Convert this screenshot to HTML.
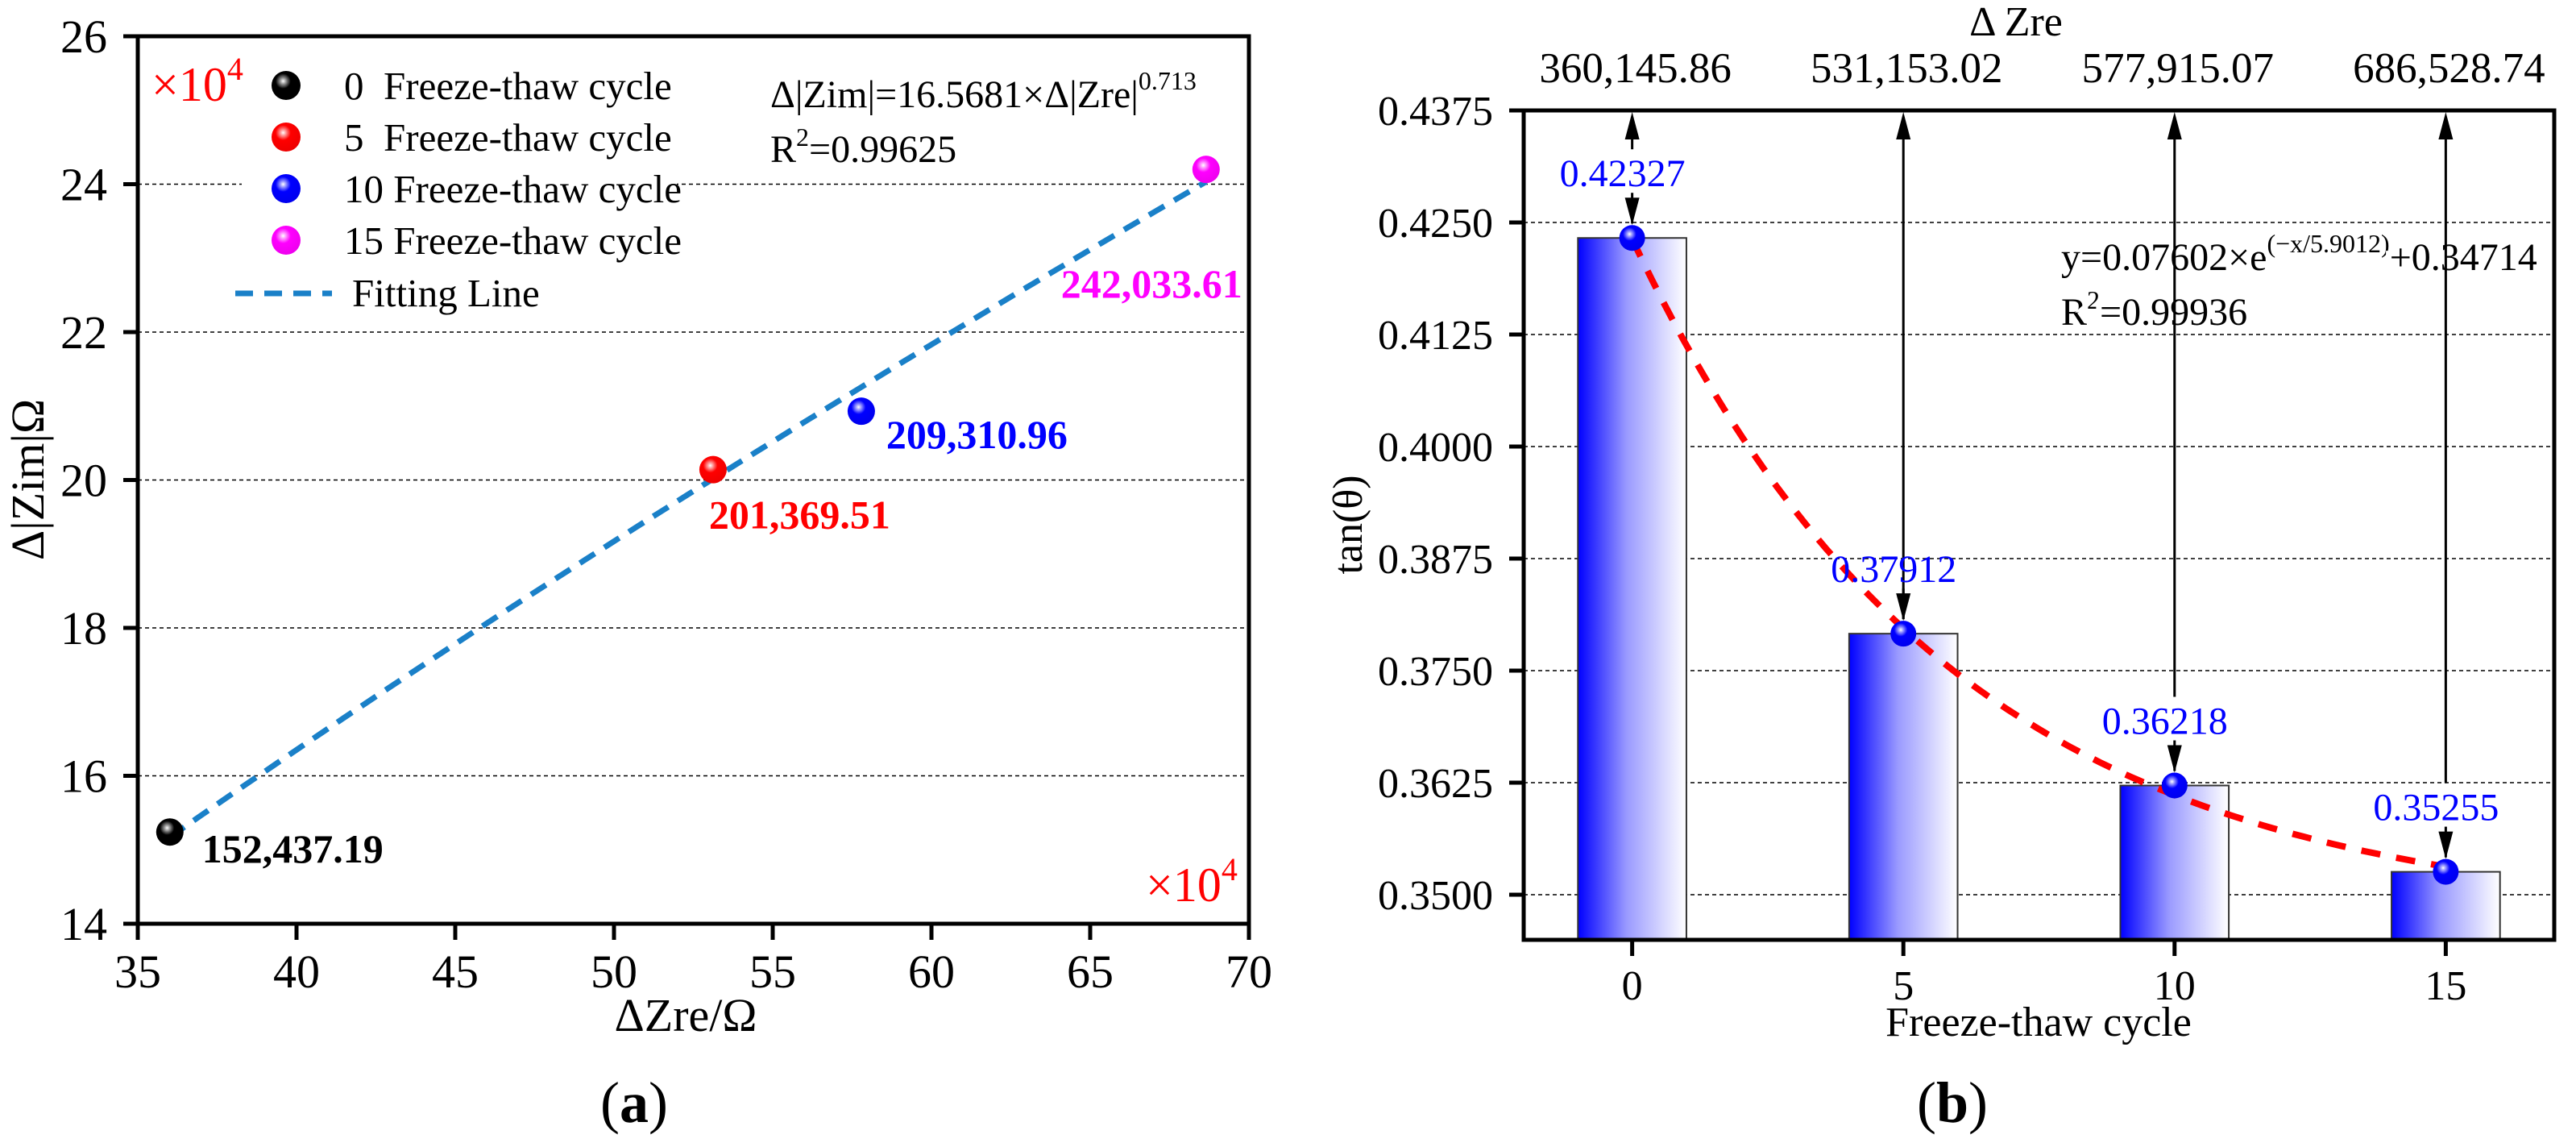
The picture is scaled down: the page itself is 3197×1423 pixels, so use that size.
<!DOCTYPE html>
<html><head><meta charset="utf-8">
<style>
html,body{margin:0;padding:0;background:#fff;}
svg{display:block;}
text{font-family:"Liberation Serif","DejaVu Serif",serif;white-space:pre;}
</style></head>
<body>
<svg id="fig" width="3197" height="1423" viewBox="0 0 3197 1423" xmlns="http://www.w3.org/2000/svg">
<defs>
<radialGradient id="gBlack" cx="0.4" cy="0.35" r="0.65"><stop offset="0" stop-color="#fff"/><stop offset="0.15" stop-color="#999"/><stop offset="0.4" stop-color="#000"/><stop offset="1" stop-color="#000"/></radialGradient>
<radialGradient id="gRed" cx="0.4" cy="0.35" r="0.65"><stop offset="0" stop-color="#fff"/><stop offset="0.15" stop-color="#f99"/><stop offset="0.4" stop-color="#f00"/><stop offset="1" stop-color="#e00"/></radialGradient>
<radialGradient id="gBlue" cx="0.4" cy="0.35" r="0.65"><stop offset="0" stop-color="#fff"/><stop offset="0.15" stop-color="#99f"/><stop offset="0.4" stop-color="#00f"/><stop offset="1" stop-color="#00e"/></radialGradient>
<radialGradient id="gMag" cx="0.4" cy="0.35" r="0.65"><stop offset="0" stop-color="#fff"/><stop offset="0.15" stop-color="#f9f"/><stop offset="0.4" stop-color="#f0f"/><stop offset="1" stop-color="#e0e"/></radialGradient>
<linearGradient id="gBar" x1="0" x2="1" y1="0" y2="0"><stop offset="0" stop-color="#0000ff"/><stop offset="0.45" stop-color="#9a9aff"/><stop offset="1" stop-color="#ffffff"/></linearGradient>
</defs>
<g id="left"></g>
<g id="right"></g>
</svg>
<script>
// ---- Chart (a) data ----
const aXTicks = [35,40,45,50,55,60,65,70];
const aYTicks = [14,16,18,20,22,24,26];
const aPointX = [36.01, 53.12, 57.79, 68.65];
const aPointY = [15.24, 20.14, 20.93, 24.20];
const aLabels = ["152,437.19","201,369.51","209,310.96","242,033.61"];
const aColors = ["#000","#f00","#00f","#f0f"];
const aLegend = ["0  Freeze-thaw cycle","5  Freeze-thaw cycle","10 Freeze-thaw cycle","15 Freeze-thaw cycle"];
const aFitCoef = 16.5681, aFitExp = 0.713;
// ---- Chart (b) data ----
const bCats = [0,5,10,15];
const bValues = [0.42327,0.37912,0.36218,0.35255];
const bTopLabels = ["360,145.86","531,153.02","577,915.07","686,528.74"];
const bYTicks = [0.3500,0.3625,0.3750,0.3875,0.4000,0.4125,0.4250,0.4375];
const bFitA = 0.07602, bFitT = 5.9012, bFitC = 0.34714;

const NS="http://www.w3.org/2000/svg";
function mk(parent,tag,attrs,text){const e=document.createElementNS(NS,tag);for(const k in attrs)e.setAttribute(k,attrs[k]);if(text!==undefined)e.textContent=text;parent.appendChild(e);return e;}
const L=document.getElementById('left'), R=document.getElementById('right');

// ===== Chart (a) =====
const ax0=171, ax1=1550, ay0=1146, ay1=45;
const aX=v=>ax0+(v-35)/(70-35)*(ax1-ax0);
const aY=v=>ay0-(v-14)/(26-14)*(ay0-ay1);
aYTicks.forEach(t=>{
  if(t>14&&t<26){const g=mk(L,'line',{x1:ax0,x2:ax1,y1:aY(t),y2:aY(t),stroke:'#000','stroke-width':1.5,'stroke-dasharray':'5,4'});
  
  }
  const tk=mk(L,'line',{x1:ax0-18,x2:ax0,y1:aY(t),y2:aY(t),stroke:'#000','stroke-width':5});
  
  
  const lb=mk(L,'text',{x:133,y:aY(t)+20,'text-anchor':'end','font-size':58},String(t));
  
  
});
aXTicks.forEach(t=>{
  const tk=mk(L,'line',{x1:aX(t),x2:aX(t),y1:ay0,y2:ay0+20,stroke:'#000','stroke-width':5});
  
  
  const lb=mk(L,'text',{x:aX(t),y:1225,'text-anchor':'middle','font-size':58},String(t));
  
  
});
// legend background
const lbg=mk(L,'rect',{x:300,y:75,width:540,height:330,fill:'#fff'});


// fit line
let pts=[];
for(let i=0;i<=60;i++){const x=aPointX[0]+(aPointX[3]-aPointX[0])*i/60;const y=aFitCoef*Math.pow(x*1e4,aFitExp)/1e4;pts.push(aX(x).toFixed(1)+','+aY(y).toFixed(1));}
const fl=mk(L,'polyline',{points:pts.join(' '),fill:'none',stroke:'#1a80c8','stroke-width':7,'stroke-dasharray':'22,14'});


const grads=['url(#gBlack)','url(#gRed)','url(#gBlue)','url(#gMag)'];
const lOff=[[40,38],[-5,73],[31,46],[-180,159]];
aPointX.forEach((x,i)=>{
  const c=mk(L,'circle',{cx:aX(x),cy:aY(aPointY[i]),r:17,fill:grads[i]});
  
  
  const t=mk(L,'text',{x:aX(x)+lOff[i][0],y:aY(aPointY[i])+lOff[i][1],'font-size':50,'font-weight':'bold',fill:aColors[i]},aLabels[i]);
  
  
});
// legend
aLegend.forEach((s,i)=>{
  const y=106+i*64;
  const c=mk(L,'circle',{cx:355,cy:y,r:18,fill:grads[i]});
  
  
  const t=mk(L,'text',{x:427,y:y+17,'font-size':49},s);
  
  
});
const lfl=mk(L,'line',{x1:292,x2:412,y1:364,y2:364,stroke:'#1a80c8','stroke-width':7,'stroke-dasharray':'22,14'});


const lft=mk(L,'text',{x:437,y:380,'font-size':49},'Fitting Line');


// axes box
const ab=mk(L,'rect',{x:ax0,y:ay1,width:ax1-ax0,height:ay0-ay1,fill:'none',stroke:'#000','stroke-width':5});


L.insertAdjacentHTML('beforeend',
 '<text x="188" y="125" font-size="60" fill="#f00">×10<tspan dy="-26" font-size="40">4</tspan></text>'+
 '<text x="1422" y="1118" font-size="60" fill="#f00">×10<tspan dy="-26" font-size="40">4</tspan></text>'+
 '<text x="956" y="133" font-size="48">Δ|Zim|=16.5681×Δ|Zre|<tspan dy="-22" font-size="32">0.713</tspan></text>'+
 '<text x="956" y="201" font-size="48">R<tspan dy="-20" font-size="32">2</tspan><tspan dy="20">=0.99625</tspan></text>'+
 '<text x="851" y="1279" font-size="58" text-anchor="middle">ΔZre/Ω</text>'+
 '<text transform="translate(54,595) rotate(-90)" font-size="58" text-anchor="middle">Δ|Zim|Ω</text>'+
 '<text x="787" y="1392" font-size="72" text-anchor="middle">(<tspan font-weight="bold">a</tspan>)</text>');

// ===== Chart (b) =====
const bx0=1891, bx1=3170, by0=1166, by1=137;
const bX=v=>bx0+(v-(-2))/(17-(-2))*(bx1-bx0);
const bY=v=>by0-(v-0.34496)/(0.4375-0.34496)*(by0-by1);
bYTicks.forEach(t=>{
  if(t<0.4375){const g=mk(R,'line',{x1:bx0,x2:bx1,y1:bY(t),y2:bY(t),stroke:'#000','stroke-width':1.5,'stroke-dasharray':'5,4'});
  
  }
  const tk=mk(R,'line',{x1:bx0-18,x2:bx0,y1:bY(t),y2:bY(t),stroke:'#000','stroke-width':5});
  
  
  const lb=mk(R,'text',{x:1853,y:bY(t)+18,'text-anchor':'end','font-size':52},t.toFixed(4));
  
  
});
bCats.forEach((c,i)=>{
  const b=mk(R,'rect',{x:bX(c-1),y:bY(bValues[i]),width:bX(c+1)-bX(c-1),height:by0-bY(bValues[i]),fill:'url(#gBar)',stroke:'#333','stroke-width':2});
  
  
});
// fit curve
pts=[];
for(let i=0;i<=80;i++){const x=15*i/80;const y=bFitA*Math.exp(-x/bFitT)+bFitC;pts.push(bX(x).toFixed(1)+','+bY(y).toFixed(1));}
const bf=mk(R,'polyline',{points:pts.join(' '),fill:'none',stroke:'#f00','stroke-width':8,'stroke-dasharray':'24,20'});


// equation
R.insertAdjacentHTML('beforeend',
 '<text x="2558" y="335" font-size="48" style="paint-order:stroke" stroke="#fff" stroke-width="14">y=0.07602×e<tspan dy="-22" font-size="32">(−x/5.9012)</tspan><tspan dy="22">+0.34714</tspan></text>'+
 '<text x="2558" y="403" font-size="48" style="paint-order:stroke" stroke="#fff" stroke-width="14">R<tspan dy="-20" font-size="32">2</tspan><tspan dy="20">=0.99936</tspan></text>');
function arrowHead(x,y,dir){ // tip at (x,y), dir -1 up, +1 down
  return mk(R,'polygon',{points:`${x},${y} ${x-9},${y-dir*34} ${x+9},${y-dir*34}`,fill:'#000'});
}
bCats.forEach((c,i)=>{
  const x=bX(c), my=bY(bValues[i]), base=my-64;
  const gapTop = base-46;
  const ln=mk(R,'line',{x1:x,x2:x,y1:by1+10,y2:(i===1? my-18 : gapTop),stroke:'#000','stroke-width':3});
  
  
  const h1=arrowHead(x,by1+2,-1);
  
  
  const l2=mk(R,'line',{x1:x,x2:x,y1:base+8,y2:my-18,stroke:'#000','stroke-width':3});
  
  
  const h2=arrowHead(x,my-16,1);
  
  
  const m=mk(R,'circle',{cx:x,cy:my,r:16,fill:'url(#gBlue)'});
  
  
  const vl=mk(R,'text',{x:x-12,y:base,'text-anchor':'middle','font-size':48,fill:'#00f'},bValues[i].toFixed(5));
  
  
  const tl=mk(R,'text',{x:x+4,y:102,'text-anchor':'middle','font-size':53},bTopLabels[i]);
  
  
  const tk=mk(R,'line',{x1:x,x2:x,y1:by0,y2:by0+20,stroke:'#000','stroke-width':5});
  
  
  const xl=mk(R,'text',{x:x,y:1240,'text-anchor':'middle','font-size':52},String(c));
  
  
});
const bb=mk(R,'rect',{x:bx0,y:by1,width:bx1-bx0,height:by0-by1,fill:'none',stroke:'#000','stroke-width':5});


R.insertAdjacentHTML('beforeend',
 '<text x="2502" y="44" font-size="52" text-anchor="middle">Δ Zre</text>'+
 '<text x="2530" y="1285" font-size="52" text-anchor="middle">Freeze-thaw cycle</text>'+
 '<text transform="translate(1690,651) rotate(-90)" font-size="52" text-anchor="middle">tan(θ)</text>'+
 '<text x="2423" y="1392" font-size="72" text-anchor="middle">(<tspan font-weight="bold">b</tspan>)</text>');
</script>
</body></html>
